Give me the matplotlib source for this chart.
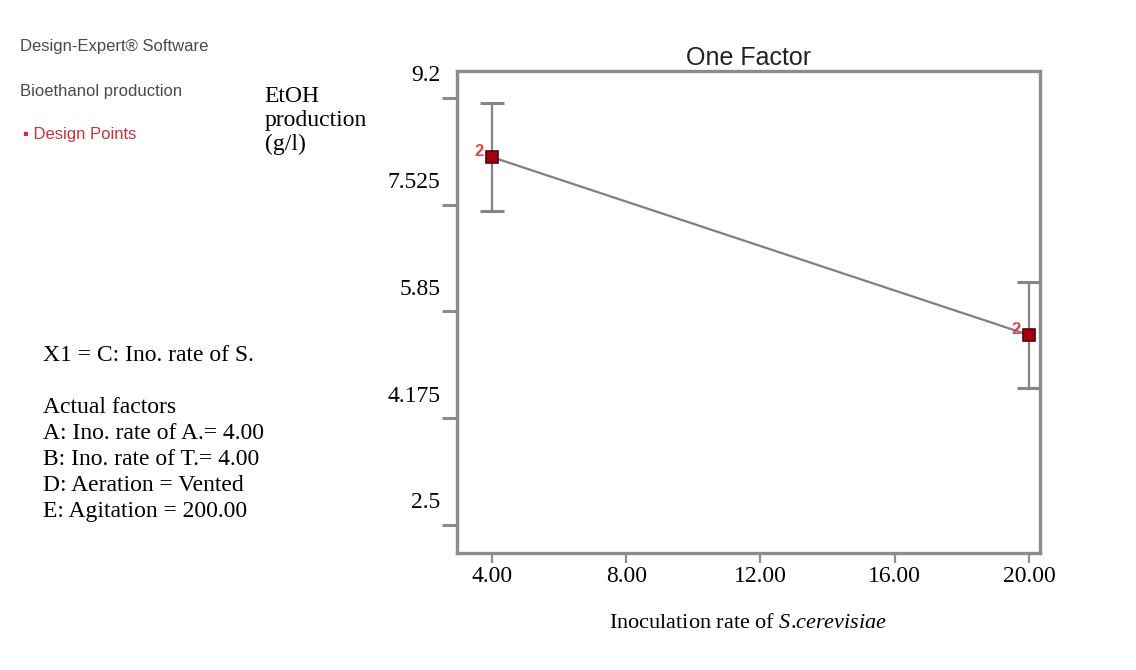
#!/usr/bin/env python
# one factor plot (Design-Expert style): EtOH production vs inoculation rate of S.cerevisiae

import matplotlib

matplotlib.use('Agg')
import matplotlib.pyplot as plt
from matplotlib.transforms import ScaledTranslation

# italic part of the x label should also be Times-like
plt.rcParams['mathtext.fontset'] = 'custom'
plt.rcParams['mathtext.rm'] = 'Liberation Serif'
plt.rcParams['mathtext.it'] = 'Liberation Serif:italic'

# data
inoc_rate = [4.0, 20.0]
etoh = [8.27, 5.48]
etoh_err_low = [0.84, 0.83]
etoh_err_high = [0.85, 0.83]
point_labels = ['2', '2']

x_ticks = [4.0, 8.0, 12.0, 16.0, 20.0]
x_ticklabels = ['4.00', '8.00', '12.00', '16.00', '20.00']
y_ticks = [2.5, 4.175, 5.85, 7.525, 9.2]
y_ticklabels = ['2.5', '4.175', '5.85', '7.525', '9.2']

side_lines = ['X1 = C: Ino. rate of S.', '', 'Actual factors',
              'A: Ino. rate of A.= 4.00', 'B: Ino. rate of T.= 4.00',
              'D: Aeration = Vented', 'E: Agitation = 200.00']

frame_grey = '#8c8c8c'
serif = 'Liberation Serif'

fig = plt.figure(figsize=(11.36, 6.70), dpi=100)
ax = fig.add_axes([0.4023, 0.1746, 0.5132, 0.7194])

# error bars first, then the connecting line and the design points
ax.errorbar(inoc_rate, etoh, yerr=[etoh_err_low, etoh_err_high], fmt='none',
            ecolor='#858585', elinewidth=1.6, capsize=8.5, capthick=2.2, zorder=2)
ax.plot(inoc_rate, etoh, color='#808080', linewidth=1.6, zorder=3)
ax.plot(inoc_rate, etoh, linestyle='none', marker='s', markersize=8.5,
        markerfacecolor='#a00010', markeredgecolor='#5a0008', markeredgewidth=1.2, zorder=4)

# the small "2" next to each point (replicates)
for x, y, lab in zip(inoc_rate, etoh, point_labels):
    ax.annotate(lab, (x, y), xytext=(-6, 4), textcoords='offset points',
                ha='right', va='center', color='#d9474f', fontsize=12,
                fontweight='bold', family='Liberation Sans', zorder=5)

ax.set_xlim(2.96, 20.33)
ax.set_ylim(2.06, 9.62)

ax.set_xticks(x_ticks)
ax.set_xticklabels(x_ticklabels, family=serif, fontsize=17)
ax.set_yticks(y_ticks)
ax.set_yticklabels(y_ticklabels, family=serif, fontsize=17)

ax.tick_params(axis='x', direction='out', length=7, width=1.6, color=frame_grey, pad=2)
ax.tick_params(axis='y', direction='out', length=11, width=2.2, color=frame_grey, pad=1)

# in the original the y labels sit above their tick marks
for lab in ax.get_yticklabels():
    lab.set_transform(lab.get_transform() + ScaledTranslation(0, 0.22, fig.dpi_scale_trans))
    lab.set_verticalalignment('center')

for spine in ax.spines.values():
    spine.set_color(frame_grey)
    spine.set_linewidth(2.4)

ax.set_title('One Factor', family='Liberation Sans', fontsize=18, pad=4, color='#222222')
ax.set_xlabel('Inoculation rate of $\\mathit{S}$.$\\mathit{cerevisiae}$', family=serif,
              fontsize=16, labelpad=20)

# y axis title put to the left, like in the picture
fig.text(0.233, 0.872, 'EtOH\nproduction\n(g/l)', family=serif, fontsize=17,
         va='top', ha='left', linespacing=1.18)

# Design-Expert header
fig.text(0.018, 0.930, 'Design-Expert\u00ae Software', family='Liberation Sans',
         fontsize=12, color='#4a4a4a', va='center')
fig.text(0.018, 0.863, 'Bioethanol production', family='Liberation Sans',
         fontsize=12, color='#4a4a4a', va='center')
fig.text(0.020, 0.799, '\u25aa Design Points', family='Liberation Sans',
         fontsize=12, color='#c8323c', va='center')

# factor info
fig.text(0.038, 0.485, '\n'.join(side_lines), family=serif, fontsize=17,
         va='top', ha='left', linespacing=1.31)

fig.savefig('out.png', dpi=100)
